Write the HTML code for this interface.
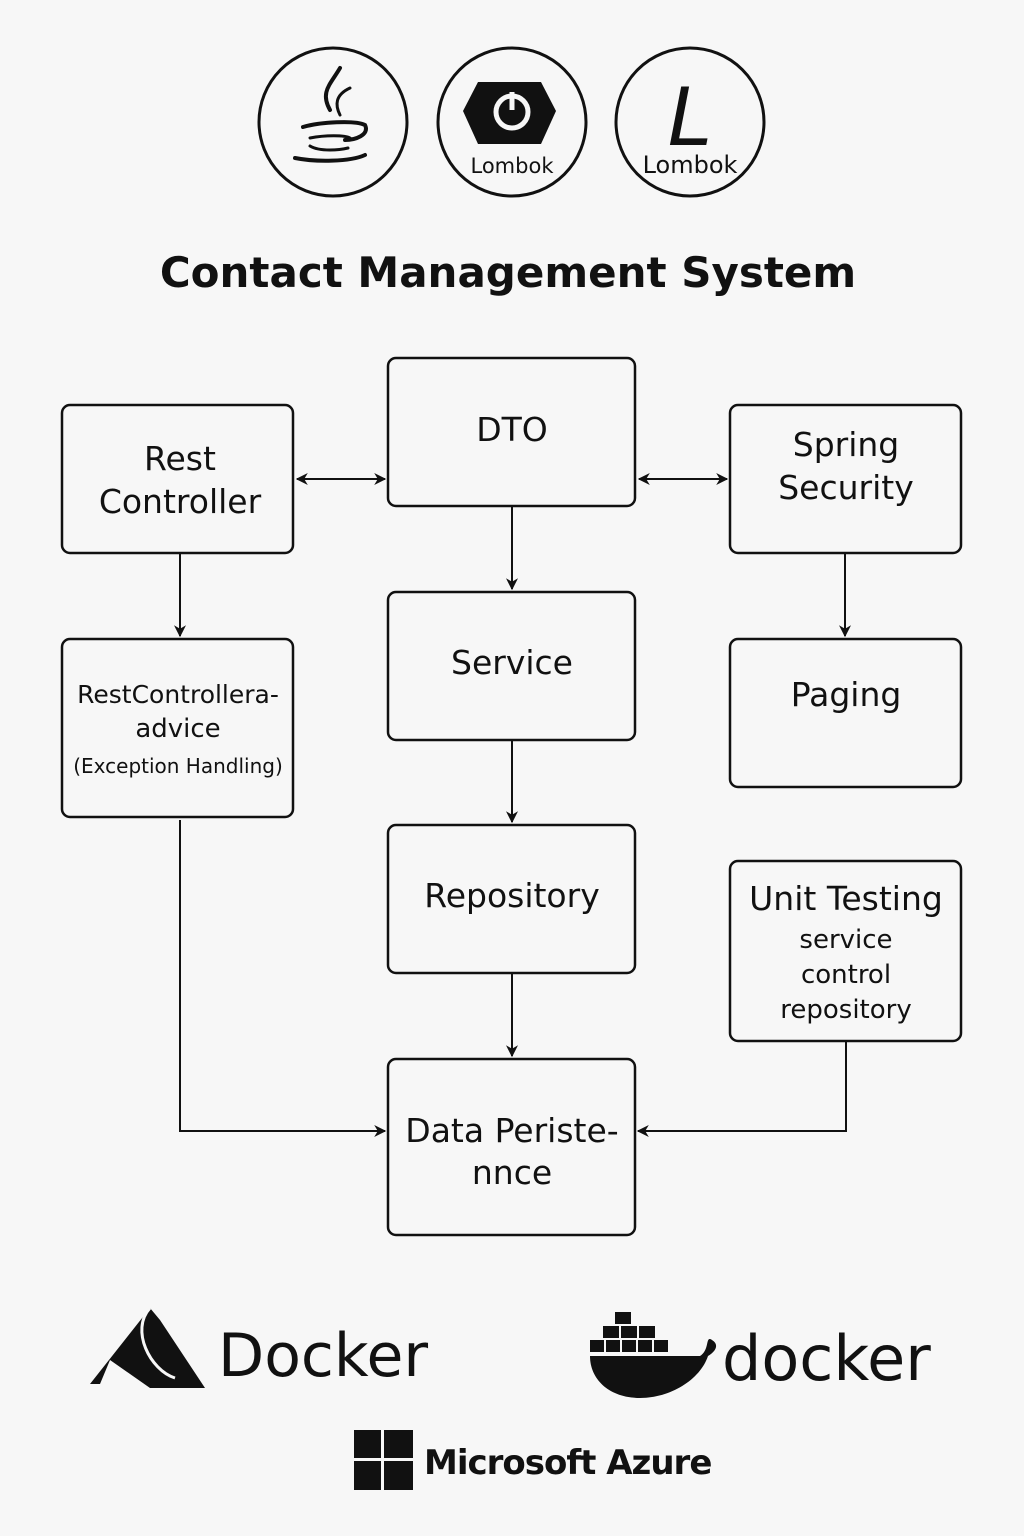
<!DOCTYPE html>
<html><head><meta charset="utf-8"><style>
html,body{margin:0;padding:0;background:#f7f7f7;}
svg{display:block;}
text{font-family:"DejaVu Sans","Liberation Sans",sans-serif;fill:#111;}
</style></head><body>
<svg width="1024" height="1536" viewBox="0 0 1024 1536" xmlns="http://www.w3.org/2000/svg">
<defs>
<marker id="a" viewBox="0 0 10 10" refX="9" refY="5" markerWidth="12" markerHeight="12" markerUnits="userSpaceOnUse" orient="auto-start-reverse"><path d="M0,0 L10,5 L0,10 L3,5 z" fill="#111"/></marker>
</defs>
<rect width="1024" height="1536" fill="#f7f7f7"/>
<g fill="none" stroke="#111" stroke-width="3">
<circle cx="333" cy="122" r="74"/>
<circle cx="512" cy="122" r="74"/>
<circle cx="690" cy="122" r="74"/>
</g>
<g stroke="#111" fill="none" stroke-linecap="round">
<path d="M340,68 C330,85 320,92 330,110" stroke-width="4"/>
<path d="M350,88 C335,95 335,105 340,115" stroke-width="3"/>
<path d="M303,127 C320,122 355,120 365,125 C370,135 355,140 345,140" stroke-width="4"/>
<path d="M310,138 C325,135 345,135 350,138" stroke-width="3"/>
<path d="M310,146 C320,152 340,150 348,148" stroke-width="3"/>
<path d="M295,158 C315,162 350,162 365,155" stroke-width="4"/>
</g>
<polygon points="478,82 541,82 556,111 541,144 478,144 463,111" fill="#111"/>
<circle cx="512" cy="112" r="16" fill="none" stroke="#f7f7f7" stroke-width="5"/>
<line x1="512" y1="92" x2="512" y2="110" stroke="#f7f7f7" stroke-width="5"/>
<text x="512" y="173" font-size="21" text-anchor="middle">Lombok</text>
<text x="690" y="145" font-size="80" text-anchor="middle" font-family="Liberation Serif,serif" font-style="italic">L</text>
<text x="690" y="173" font-size="24" text-anchor="middle">Lombok</text>
<text x="508" y="287" font-size="42" font-weight="bold" text-anchor="middle">Contact Management System</text>
<g fill="none" stroke="#111" stroke-width="2.5">
<rect x="62" y="405" width="231" height="148" rx="8"/>
<rect x="388" y="358" width="247" height="148" rx="8"/>
<rect x="730" y="405" width="231" height="148" rx="8"/>
<rect x="62" y="639" width="231" height="178" rx="8"/>
<rect x="388" y="592" width="247" height="148" rx="8"/>
<rect x="730" y="639" width="231" height="148" rx="8"/>
<rect x="388" y="825" width="247" height="148" rx="8"/>
<rect x="730" y="861" width="231" height="180" rx="8"/>
<rect x="388" y="1059" width="247" height="176" rx="8"/>
</g>
<g font-size="33" text-anchor="middle">
<text x="180" y="470">Rest</text>
<text x="180" y="513">Controller</text>
<text x="512" y="441">DTO</text>
<text x="846" y="456">Spring</text>
<text x="846" y="499">Security</text>
<text x="512" y="674">Service</text>
<text x="846" y="706">Paging</text>
<text x="512" y="907">Repository</text>
<text x="846" y="910">Unit Testing</text>
<text x="512" y="1142">Data Periste-</text>
<text x="512" y="1184">nnce</text>
</g>
<g font-size="26" text-anchor="middle">
<text x="178" y="703" font-size="25">RestControllera-</text>
<text x="178" y="737">advice</text>
<text x="178" y="773" font-size="20">(Exception Handling)</text>
<text x="846" y="948">service</text>
<text x="846" y="983">control</text>
<text x="846" y="1018">repository</text>
</g>
<g stroke="#111" stroke-width="2" fill="none">
<line x1="297" y1="479" x2="385" y2="479" marker-start="url(#a)" marker-end="url(#a)"/>
<line x1="639" y1="479" x2="727" y2="479" marker-start="url(#a)" marker-end="url(#a)"/>
<line x1="512" y1="506" x2="512" y2="589" marker-end="url(#a)"/>
<line x1="180" y1="553" x2="180" y2="636" marker-end="url(#a)"/>
<line x1="845" y1="553" x2="845" y2="636" marker-end="url(#a)"/>
<line x1="512" y1="740" x2="512" y2="822" marker-end="url(#a)"/>
<line x1="512" y1="973" x2="512" y2="1056" marker-end="url(#a)"/>
<polyline points="180,820 180,1131 385,1131" marker-end="url(#a)"/>
<polyline points="846,1041 846,1131 638,1131" marker-end="url(#a)"/>
</g>
<path d="M90,1384 L150,1308 L160,1320 L205,1388 L150,1388 L110,1360 L100,1384 Z" fill="#111"/>
<path d="M150,1308 C130,1330 150,1370 175,1378" stroke="#f7f7f7" stroke-width="3" fill="none"/>
<text x="218" y="1376" font-size="60">Docker</text>
<g fill="#111">
<rect x="615" y="1312" width="16" height="12"/><rect x="603" y="1326" width="16" height="12"/><rect x="621" y="1326" width="16" height="12"/><rect x="639" y="1326" width="16" height="12"/>
<rect x="590" y="1340" width="14" height="12"/><rect x="606" y="1340" width="14" height="12"/><rect x="622" y="1340" width="14" height="12"/><rect x="638" y="1340" width="14" height="12"/><rect x="654" y="1340" width="14" height="12"/>
<path d="M590,1356 L700,1356 C710,1350 705,1335 712,1340 C720,1345 715,1352 708,1356 C700,1380 670,1398 640,1398 C610,1398 590,1380 590,1356 Z"/>
</g>
<text x="722" y="1380" font-size="62">docker</text>
<g fill="#111">
<rect x="354" y="1430" width="27" height="28"/><rect x="384" y="1430" width="29" height="28"/>
<rect x="354" y="1461" width="27" height="29"/><rect x="384" y="1461" width="29" height="29"/>
</g>
<text x="424" y="1474" font-size="34" font-weight="bold" letter-spacing="-1">Microsoft Azure</text>
</svg>
</body></html>
